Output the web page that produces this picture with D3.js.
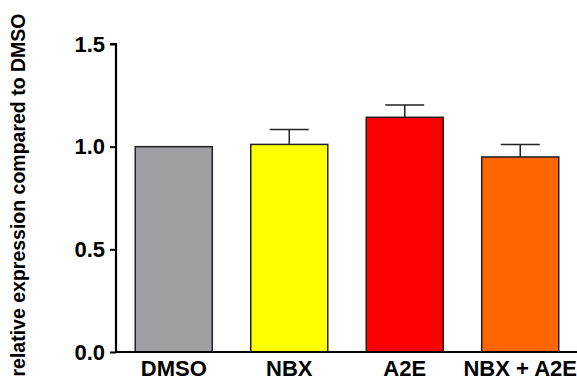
<!DOCTYPE html>
<html><head><meta charset="utf-8">
<script src="https://cdn.jsdelivr.net/npm/d3@7"></script>
<style>body{margin:0;background:#fff}svg{display:block}text{font-family:"Liberation Sans",Arial,sans-serif;font-weight:bold}</style>
</head><body><svg id="c" width="577" height="391"></svg>
<script>
const categories = ["DMSO", "NBX", "A2E", "NBX + A2E"];
const values = [1.0, 1.011, 1.143, 0.950];
const errors = [0, 0.072, 0.060, 0.061];
const colors = ["#A09FA4", "#FFFF00", "#FF0000", "#FF6600"];
const yTicks = [0.0, 0.5, 1.0, 1.5];
const yTitle = "relative expression compared to DMSO";

const svg = d3.select("#c");
const x = d3.scaleBand().domain(categories).range([116, 578]).paddingInner(0.333).paddingOuter(0.1667);
const y = d3.scaleLinear().domain([0, 1.5]).range([352, 44]);

// bars
svg.selectAll("rect.bar").data(categories).join("rect")
  .attr("x", d => x(d)).attr("width", x.bandwidth())
  .attr("y", (d, i) => y(values[i])).attr("height", (d, i) => y(0) - y(values[i]))
  .attr("fill", (d, i) => colors[i]).attr("stroke", "#222").attr("stroke-width", 1.5);

// error bars
const capW = 39;
categories.forEach((d, i) => {
  if (!errors[i]) return;
  const cx = x(d) + x.bandwidth() / 2;
  svg.append("line").attr("x1", cx).attr("x2", cx).attr("y1", y(values[i])).attr("y2", y(values[i] + errors[i])).attr("stroke", "#222").attr("stroke-width", 1.5);
  svg.append("line").attr("x1", cx - capW / 2).attr("x2", cx + capW / 2).attr("y1", y(values[i] + errors[i])).attr("y2", y(values[i] + errors[i])).attr("stroke", "#222").attr("stroke-width", 1.5);
});

// y axis
const ya = svg.append("g").attr("transform", "translate(116,0)")
  .call(d3.axisLeft(y).tickValues(yTicks).tickFormat(d3.format(".1f")).tickSize(6).tickPadding(5));
ya.select(".domain").attr("stroke", "#000").attr("stroke-width", 2.2).attr("d", `M-6,${y(1.5)}H0V${y(0)}`);
ya.selectAll(".tick line").attr("stroke", "#000").attr("stroke-width", 2);
ya.selectAll(".tick text").attr("font-size", 22).attr("fill", "#000").attr("font-weight", "bold").attr("font-family", "Liberation Sans, Arial, sans-serif");

// x axis
const xa = svg.append("g").attr("transform", `translate(0,${y(0)})`)
  .call(d3.axisBottom(x).tickSize(0).tickPadding(8));
xa.select(".domain").attr("stroke", "#000").attr("stroke-width", 2.2).attr("d", `M115,0H578`);
xa.selectAll(".tick text").attr("font-size", 22).attr("fill", "#000").attr("font-weight", "bold").attr("font-family", "Liberation Sans, Arial, sans-serif");

// y title
svg.append("text").attr("transform", "translate(25,195) rotate(-90)").attr("text-anchor", "middle")
  .attr("font-size", 19.5).attr("fill", "#000").text(yTitle);
</script></body></html>
